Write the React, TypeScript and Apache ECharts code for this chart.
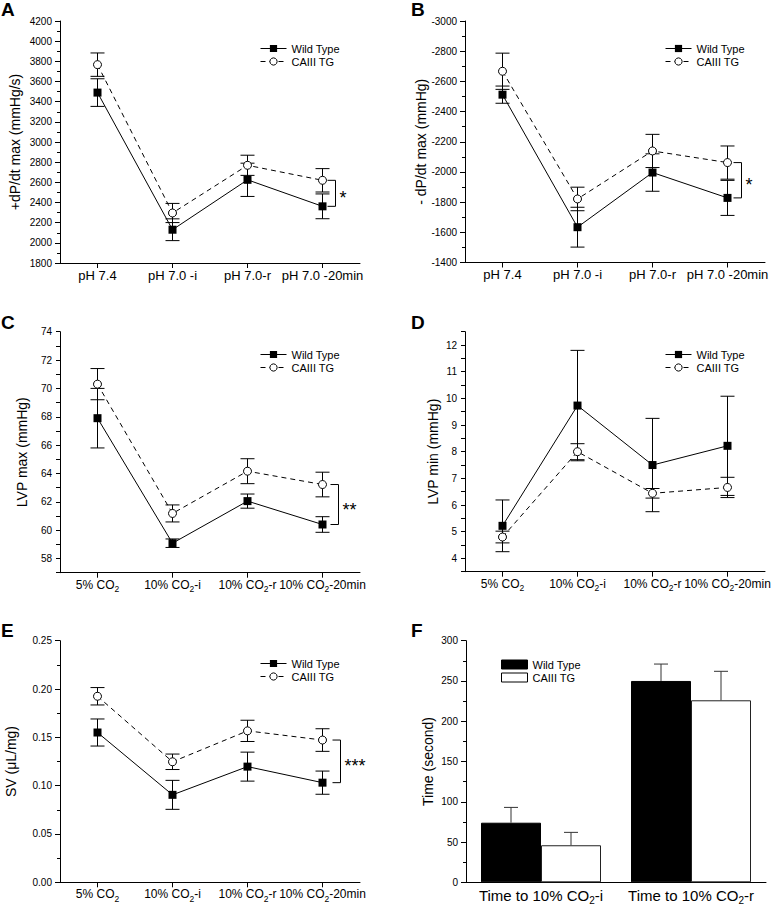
import React, { useEffect, useRef } from 'react';
import * as echarts from 'echarts';

const FONT = '"Liberation Sans Narrow", "Arial Narrow", "Liberation Sans", Arial, sans-serif';

// ---- categories ----
const phCategories = ['pH 7.4', 'pH 7.0 -i', 'pH 7.0-r', 'pH 7.0 -20min'];
const co2Categories = ['5% CO2', '10% CO2-i', '10% CO2-r', '10% CO2-20min'];
const timeCategories = ['Time to 10% CO2-i', 'Time to 10% CO2-r'];
const seriesNames = ['Wild Type', 'CAIII TG'];
const panelLetters = ['A', 'B', 'C', 'D', 'E', 'F'];
const yTitles = ['+dP/dt max (mmHg/s)', '- dP/dt max (mmHg)', 'LVP max (mmHg)', 'LVP min (mmHg)', 'SV (\u03bcL/mg)', 'Time (second)'];

// ---- A: +dP/dt max ----
const aWT = [3490, 2130, 2625, 2362];
const aWTErr = [137, 108, 165, 123];
const aTG = [3767, 2296, 2769, 2620];
const aTGErr = [116, 95, 100, 116];
// ---- B: -dP/dt max ----
const bWT = [-2512, -1634, -1996, -1828];
const bWTErr = [57, 132, 124, 116];
const bTG = [-2667, -1821, -2139, -2062];
const bTGErr = [120, 78, 110, 110];
// ---- C: LVP max ----
const cWT = [67.9, 59.08, 62.05, 60.4];
const cWTErr = [2.1, 0.3, 0.5, 0.55];
const cTG = [70.3, 61.18, 64.16, 63.22];
const cTGErr = [1.1, 0.6, 0.88, 0.87];
// ---- D: LVP min ----
const dWT = [5.22, 9.73, 7.5, 8.22];
const dWTErr = [0.97, 2.07, 1.75, 1.86];
const dTG = [4.8, 8.0, 6.44, 6.66];
const dTGErr = [0.22, 0.3, 0.18, 0.38];
// ---- E: SV ----
const eWT = [0.155, 0.0905, 0.1197, 0.1031];
const eWTErr = [0.014, 0.015, 0.015, 0.012];
const eTG = [0.1925, 0.1247, 0.1567, 0.1472];
const eTGErr = [0.009, 0.008, 0.011, 0.0117];
// ---- F: time ----
const fWT = [74, 250];
const fWTErr = [19, 21];
const fTG = [46, 226];
const fTGErr = [16, 36];
// ---- significance marks (A..E) ----
const sigMarks = ['*', '*', '**', '', '***'];

// ---- y axis ticks ----
const yMins = [1800, -3000, 57, 3.5, 0, 0];
const yMaxs = [4200, -1400, 74, 12.5, 0.25, 300];
const yIntervals = [200, 200, 1, 0.5, 0.05, 50];

// ---- layout (not data) ----
const GRIDS = [
  { left: 60, top: 21, width: 300, height: 242 },
  { left: 465, top: 21, width: 300, height: 241.5 },
  { left: 60, top: 331.7, width: 300, height: 241 },
  { left: 465, top: 331.7, width: 300, height: 240 },
  { left: 60, top: 640.7, width: 300, height: 241.6 },
  { left: 466, top: 640.7, width: 300, height: 241.6 },
];
const NAME_GAPS = [38, 37, 31, 25, 42, 31];
const X_FONT = [13, 13, 12, 12, 12, 15];
const LEGEND_POS = [
  { left: 260, top: 43 },
  { left: 665, top: 43 },
  { left: 260, top: 349 },
  { left: 665, top: 349 },
  { left: 260, top: 658 },
  { left: 501, top: 659 },
];
const LETTER_POS = [
  [1, 0], [411, 0], [1, 313], [411, 313], [1, 621], [411, 621],
];
const BRACKET_OFFSET = [13, 14, 16, 0, 18];

const subFormatter = (v: string) => v.replace('CO2', 'CO{sub|2}');

function errRender(params: any, api: any) {
  const c = api.value(0);
  const lo = api.coord([c, api.value(1)]);
  const hi = api.coord([c, api.value(2)]);
  const x = lo[0];
  const h = 7;
  const style = { stroke: '#000', lineWidth: 1, fill: 'none' };
  return {
    type: 'group',
    children: [
      { type: 'line', shape: { x1: x, y1: lo[1], x2: x, y2: hi[1] }, style },
      { type: 'line', shape: { x1: x - h, y1: lo[1], x2: x + h, y2: lo[1] }, style },
      { type: 'line', shape: { x1: x - h, y1: hi[1], x2: x + h, y2: hi[1] }, style },
    ],
  };
}

function barErrRender(params: any, api: any) {
  const c = api.value(0);
  const side = api.value(3);
  const bw = api.size([1, 0])[0];
  const base = api.coord([c, api.value(1)]);
  const top = api.coord([c, api.value(2)]);
  const x = base[0] + side * bw * 0.2;
  const h = 7;
  const style = { stroke: '#333', lineWidth: 1, fill: 'none' };
  return {
    type: 'group',
    children: [
      { type: 'line', shape: { x1: x, y1: base[1], x2: x, y2: top[1] }, style },
      { type: 'line', shape: { x1: x - h, y1: top[1], x2: x + h, y2: top[1] }, style },
    ],
  };
}

function makeBracketRender(offset: number, mark: string) {
  return (params: any, api: any) => {
    const c = api.value(0);
    const p1 = api.coord([c, api.value(1)]);
    const p2 = api.coord([c, api.value(2)]);
    const x = p1[0] + offset;
    return {
      type: 'group',
      children: [
        {
          type: 'polyline',
          shape: { points: [[x - 8, p1[1]], [x, p1[1]], [x, p2[1]], [x - 8, p2[1]]] },
          style: { stroke: '#000', lineWidth: 1, fill: 'none' },
        },
        {
          type: 'text',
          x: x + 4,
          y: (p1[1] + p2[1]) / 2 + 5,
          style: { text: mark, fontSize: 18, fontFamily: 'Liberation Sans, Arial, sans-serif', fill: '#000', align: 'left', verticalAlign: 'middle' },
        },
      ],
    };
  };
}

function buildOption() {
  const lineData = [
    [aWT, aWTErr, aTG, aTGErr],
    [bWT, bWTErr, bTG, bTGErr],
    [cWT, cWTErr, cTG, cTGErr],
    [dWT, dWTErr, dTG, dTGErr],
    [eWT, eWTErr, eTG, eTGErr],
  ];
  const catsFor = [phCategories, phCategories, co2Categories, co2Categories, co2Categories, timeCategories];

  const grid = GRIDS.map((g) => ({ ...g, containLabel: false, outerBoundsMode: 'none' }));

  const xAxis = catsFor.map((cats, i) => ({
    gridIndex: i,
    type: 'category',
    data: cats,
    boundaryGap: true,
    axisLine: { show: true, lineStyle: { color: '#000', width: 1 } },
    axisTick: { show: true, alignWithLabel: true, length: i === 5 ? 0 : 5, lineStyle: { color: '#000' } },
    axisLabel: {
      interval: 0,
      color: '#000',
      fontSize: X_FONT[i],
      fontFamily: FONT,
      margin: 3,
      lineHeight: i === 5 ? 20 : 18,
      formatter: subFormatter,
      rich: {
        sub: { fontSize: i === 5 ? 10 : 8.5, lineHeight: 9, verticalAlign: 'bottom', fontFamily: FONT, color: '#000' },
      },
    },
    splitLine: { show: false },
  }));

  const yFormatters: any[] = [
    (v: number) => String(v),
    (v: number) => String(v),
    (v: number) => (Math.round(v) % 2 === 0 ? String(Math.round(v)) : ''),
    (v: number) => (Math.abs(v - Math.round(v)) < 1e-9 ? String(Math.round(v)) : ''),
    (v: number) => v.toFixed(2),
    (v: number) => String(v),
  ];
  const hasMinor = [true, true, false, false, true, true];

  const yAxis = yMins.map((mn, i) => ({
    gridIndex: i,
    type: 'value',
    min: mn,
    max: yMaxs[i],
    interval: yIntervals[i],
    inverse: i === 1,
    name: yTitles[i],
    nameLocation: 'middle',
    nameGap: NAME_GAPS[i],
    nameTextStyle: { fontSize: 14, color: '#000', fontFamily: FONT },
    axisLine: { show: true, lineStyle: { color: '#000', width: 1 } },
    axisTick: { show: true, length: hasMinor[i] ? 5 : 4, lineStyle: { color: '#000' } },
    minorTick: { show: hasMinor[i], splitNumber: 2, length: 3, lineStyle: { color: '#000' } },
    splitLine: { show: false },
    minorSplitLine: { show: false },
    axisLabel: {
      color: '#000',
      fontSize: 10,
      fontFamily: FONT,
      margin: 8,
      showMinLabel: true,
      showMaxLabel: true,
      formatter: yFormatters[i],
    },
  }));

  const series: any[] = [];
  lineData.forEach(([wt, wtErr, tg, tgErr], p) => {
    series.push({
      type: 'line',
      name: seriesNames[0],
      xAxisIndex: p,
      yAxisIndex: p,
      data: wt,
      symbol: 'rect',
      symbolSize: 8,
      itemStyle: { color: '#000' },
      lineStyle: { color: '#000', width: 1 },
      z: 4,
    });
    series.push({
      type: 'line',
      name: seriesNames[1],
      xAxisIndex: p,
      yAxisIndex: p,
      data: tg,
      symbol: 'circle',
      symbolSize: 8,
      itemStyle: { color: '#fff', borderColor: '#000', borderWidth: 1 },
      lineStyle: { color: '#000', width: 1, type: [5, 4] },
      z: 5,
    });
    series.push({
      type: 'custom',
      name: 'err-wt-' + p,
      xAxisIndex: p,
      yAxisIndex: p,
      renderItem: errRender,
      data: wt.map((v, i) => [i, v - wtErr[i], v + wtErr[i]]),
      z: 3,
      silent: true,
    });
    series.push({
      type: 'custom',
      name: 'err-tg-' + p,
      xAxisIndex: p,
      yAxisIndex: p,
      renderItem: errRender,
      data: tg.map((v, i) => [i, v - tgErr[i], v + tgErr[i]]),
      z: 3,
      silent: true,
    });
    if (sigMarks[p]) {
      const last = wt.length - 1;
      series.push({
        type: 'custom',
        name: 'sig-' + p,
        xAxisIndex: p,
        yAxisIndex: p,
        renderItem: makeBracketRender(BRACKET_OFFSET[p], sigMarks[p]),
        data: [[last, wt[last], tg[last]]],
        z: 6,
        silent: true,
      });
    }
  });

  series.push({
    type: 'bar',
    name: seriesNames[0],
    xAxisIndex: 5,
    yAxisIndex: 5,
    data: fWT,
    barGap: '0%',
    barCategoryGap: '20%',
    itemStyle: { color: '#000', borderColor: '#000', borderWidth: 1 },
    z: 2,
  });
  series.push({
    type: 'bar',
    name: seriesNames[1],
    xAxisIndex: 5,
    yAxisIndex: 5,
    data: fTG,
    barGap: '0%',
    barCategoryGap: '20%',
    itemStyle: { color: '#fff', borderColor: '#222', borderWidth: 1 },
    z: 2,
  });
  series.push({
    type: 'custom',
    name: 'err-f',
    xAxisIndex: 5,
    yAxisIndex: 5,
    renderItem: barErrRender,
    data: [
      ...fWT.map((v, i) => [i, v, v + fWTErr[i], -1]),
      ...fTG.map((v, i) => [i, v, v + fTGErr[i], 1]),
    ],
    z: 3,
    silent: true,
  });

  const legend = LEGEND_POS.map((pos, i) => ({
    ...pos,
    orient: 'vertical',
    padding: 0,
    itemWidth: 26,
    itemHeight: 9,
    itemGap: 2,
    selectedMode: false,
    itemStyle: { borderWidth: 1 },
    lineStyle: { width: 1 },
    textStyle: { fontSize: 11, fontFamily: FONT, color: '#000' },
    data:
      i === 5
        ? [
            { name: seriesNames[0], icon: 'rect', itemStyle: { color: '#000', borderColor: '#000', borderWidth: 1 } },
            { name: seriesNames[1], icon: 'rect', itemStyle: { color: '#fff', borderColor: '#000', borderWidth: 1 } },
          ]
        : seriesNames,
  }));

  const graphic = panelLetters.map((t, i) => ({
    type: 'text',
    x: LETTER_POS[i][0],
    y: LETTER_POS[i][1],
    style: { text: t, fontSize: 19, fontWeight: 'bold', fontFamily: 'Liberation Sans, Arial, sans-serif', fill: '#000', verticalAlign: 'top', align: 'left' },
  }));

  return {
    animation: false,
    backgroundColor: '#fff',
    textStyle: { fontFamily: FONT },
    grid,
    xAxis,
    yAxis,
    legend,
    series,
    graphic,
  };
}

export default function App() {
  const ref = useRef<HTMLDivElement>(null);
  useEffect(() => {
    const chart = echarts.init(ref.current!, null, { renderer: 'svg' });
    chart.setOption(buildOption() as any);
    return () => chart.dispose();
  }, []);
  return (
    <div
      ref={ref}
      style={{ position: 'absolute', left: 0, top: 0, width: 777, height: 905, background: '#fff' }}
    />
  );
}
